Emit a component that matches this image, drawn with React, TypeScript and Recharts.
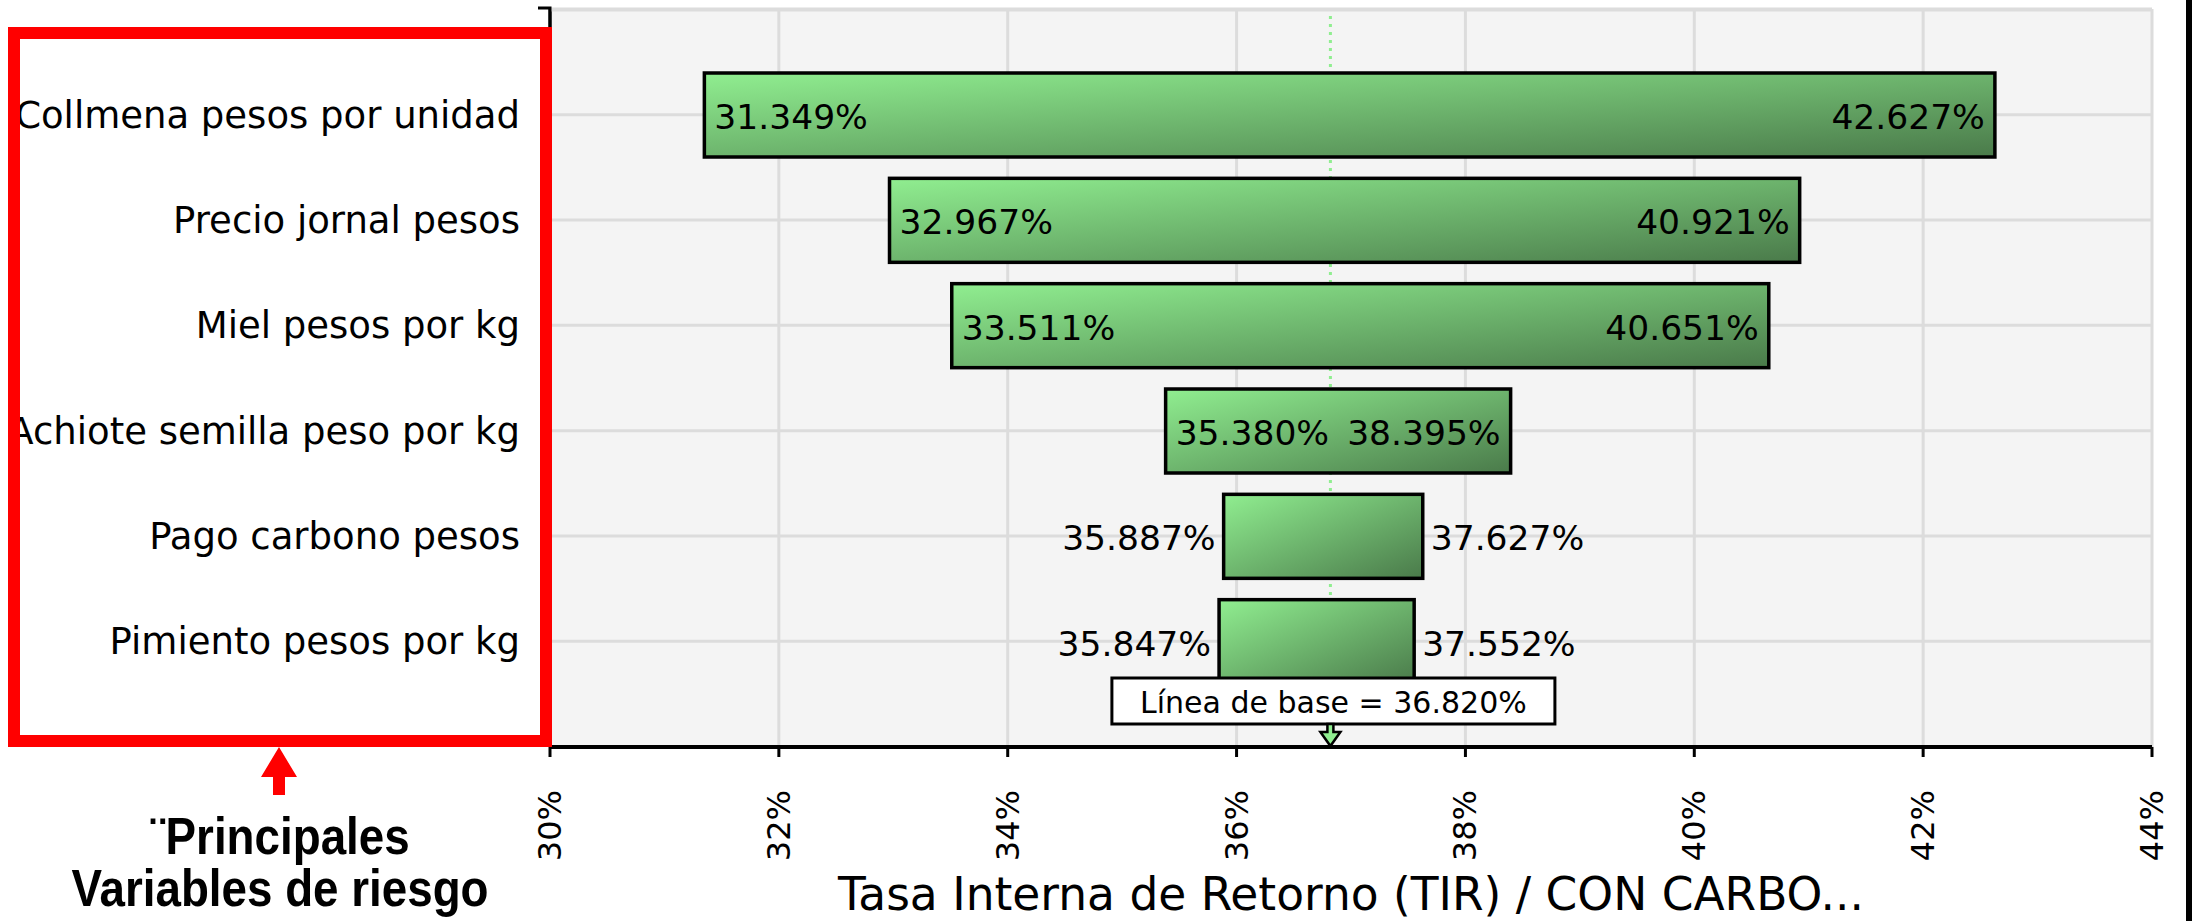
import React from 'react';
import {
  ComposedChart,
  Bar,
  XAxis,
  YAxis,
  CartesianGrid,
  ReferenceLine,
} from 'recharts';

// ---------- data ----------
const categories = [
  'Collmena pesos por unidad',
  'Precio jornal pesos',
  'Miel pesos por kg',
  'Achiote semilla peso por kg',
  'Pago carbono pesos',
  'Pimiento pesos por kg',
];
const lowValues = [31.349, 32.967, 33.511, 35.38, 35.887, 35.847];
const highValues = [42.627, 40.921, 40.651, 38.395, 37.627, 37.552];
const baselineValue = 36.82;
const xTicks = [30, 32, 34, 36, 38, 40, 42, 44];
const axisTitle = 'Tasa Interna de Retorno (TIR) / CON CARBO...';
const noteLines = ['¨Principales', 'Variables de riesgo'];

const data = categories.map((name, i) => ({
  name,
  low: lowValues[i],
  high: highValues[i],
  range: [lowValues[i], highValues[i]],
}));

const FONT = "'DejaVu Sans', Verdana, sans-serif";
const fmt = (v: number) => `${v.toFixed(3)}%`;

const TornadoBar = (props: any) => {
  const { x, y, width, height, payload } = props;
  const cy = y + height / 2;
  const inside = width > 320;
  const common = {
    fontSize: 34.5,
    fontFamily: FONT,
    fill: '#000',
    dominantBaseline: 'central' as const,
  };
  return (
    <g>
      <rect
        x={x}
        y={y}
        width={width}
        height={height}
        fill="url(#tornadoGrad)"
        stroke="#000"
        strokeWidth={3.5}
      />
      <text
        {...common}
        x={inside ? x + 10 : x - 8}
        y={cy + 2}
        textAnchor={inside ? 'start' : 'end'}
      >
        {fmt(payload.low)}
      </text>
      <text
        {...common}
        x={inside ? x + width - 10 : x + width + 8}
        y={cy + 2}
        textAnchor={inside ? 'end' : 'start'}
      >
        {fmt(payload.high)}
      </text>
    </g>
  );
};

const XTick = (props: any) => {
  const { x, y, payload } = props;
  return (
    <text
      transform={`translate(${x},${y}) rotate(-90)`}
      textAnchor="end"
      dominantBaseline="central"
      fontSize={32}
      fontFamily={FONT}
      fill="#000"
    >
      {`${payload.value}%`}
    </text>
  );
};

const TitleLabel = (props: any) => {
  const vb = props.viewBox || {};
  return (
    <text
      x={vb.x + vb.width / 2}
      y={vb.y + 163}
      textAnchor="middle"
      fontSize={45.5}
      fontFamily={FONT}
      fill="#000"
    >
      {axisTitle}
    </text>
  );
};

const BaselineLabel = (props: any) => {
  const vb = props.viewBox || {};
  const cx = vb.x;
  const bottom = vb.y + vb.height;
  const boxW = 443;
  const boxH = 46;
  const boxBottom = bottom - 23;
  const headTop = boxBottom + 8;
  const d = `M${cx - 3},${boxBottom} H${cx + 3} V${headTop} H${cx + 10} L${cx},${bottom - 1} L${cx - 10},${headTop} H${cx - 3} Z`;
  return (
    <g>
      <rect
        x={cx - boxW / 2 + 3}
        y={boxBottom - boxH}
        width={boxW}
        height={boxH}
        fill="#fff"
        stroke="#000"
        strokeWidth={3}
      />
      <text
        x={cx + 3}
        y={boxBottom - boxH / 2 + 1}
        textAnchor="middle"
        dominantBaseline="central"
        fontSize={30}
        fontFamily={FONT}
        fill="#000"
      >
        {`Línea de base = ${fmt(baselineValue)}`}
      </text>
      <path d={d} fill="#90EE90" stroke="#000" strokeWidth={2.5} strokeLinejoin="miter" />
    </g>
  );
};

export default function App() {
  return (
    <div style={{ position: 'absolute', left: 0, top: 0, width: 2192, height: 921, background: '#fff' }}>
      <ComposedChart
        width={2192}
        height={921}
        data={data}
        layout="vertical"
        margin={{ top: 9, right: 40, left: 0, bottom: 0 }}
      >
        <defs>
          <linearGradient id="tornadoGrad" x1="0" y1="0" x2="1" y2="1">
            <stop offset="0%" stopColor="#90EE90" />
            <stop offset="100%" stopColor="#4a7a4a" />
          </linearGradient>
        </defs>
        <CartesianGrid fill="#f4f4f4" stroke="#dcdcdc" strokeWidth={3} />
        <XAxis
          type="number"
          domain={[30, 44]}
          ticks={xTicks}
          allowDataOverflow
          height={174}
          tickSize={10}
          tickMargin={33}
          axisLine={{ stroke: '#000', strokeWidth: 4 }}
          tickLine={{ stroke: '#000', strokeWidth: 3 }}
          tick={<XTick />}
          interval={0}
          label={<TitleLabel />}
        />
        <YAxis
          type="category"
          dataKey="name"
          width={550}
          padding={{ top: 53, bottom: 53 }}
          tickSize={8}
          tickMargin={22}
          interval={0}
          axisLine={{ stroke: '#000', strokeWidth: 3 }}
          tickLine={{ stroke: '#000', strokeWidth: 3 }}
          tick={{ fill: '#000', fontSize: 37, fontFamily: FONT }}
        />
        <ReferenceLine
          x={baselineValue}
          stroke="#90EE90"
          strokeWidth={3}
          strokeDasharray="3 5"
          zIndex={250}
        />
        <Bar
          dataKey="range"
          barSize={84}
          isAnimationActive={false}
          shape={<TornadoBar />}
        />
        <ReferenceLine
          x={baselineValue}
          stroke="none"
          strokeWidth={0}
          zIndex={2500}
          label={<BaselineLabel />}
        />
      </ComposedChart>
      <svg
        width={2192}
        height={921}
        style={{ position: 'absolute', left: 0, top: 0, pointerEvents: 'none' }}
      >
        <line x1={551} y1={10} x2={2152} y2={10} stroke="#dcdcdc" strokeWidth={3} />
        <path d="M538,8 H550 V27" fill="none" stroke="#000" strokeWidth={3} />
        <rect x={14} y={33} width={532} height={708} fill="none" stroke="#ff0000" strokeWidth={12} />
        <path d="M279,747 L297,777 L285,777 L285,795 L273,795 L273,777 L261,777 Z" fill="#ff0000" />
        <g fontFamily="'Liberation Sans', Arial, sans-serif" fontWeight="bold" fontSize={52} fill="#000">
          <text transform="translate(280,854) scale(0.88,1)" textAnchor="middle">{noteLines[0]}</text>
          <text transform="translate(280,906) scale(0.88,1)" textAnchor="middle">{noteLines[1]}</text>
        </g>
        <rect x={2186} y={0} width={6} height={921} fill="#000" />
      </svg>
    </div>
  );
}
